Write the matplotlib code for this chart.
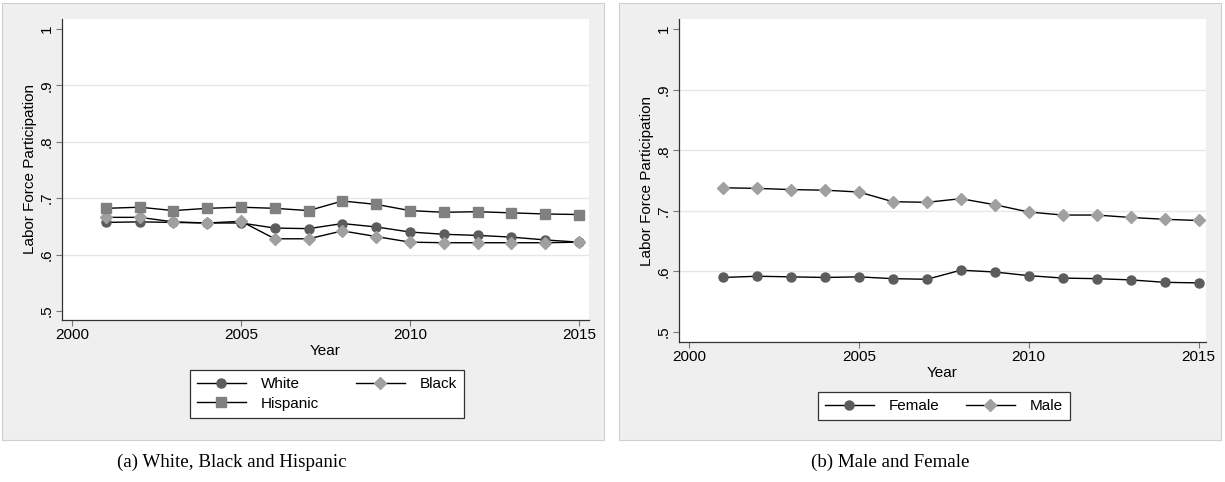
import numpy as np
import matplotlib
matplotlib.use("Agg")
import matplotlib.pyplot as plt
from matplotlib.patches import Rectangle

plt.rcParams['font.family'] = ['Liberation Sans', 'DejaVu Sans']

years = np.arange(2001, 2016)

# panel (a)
white = [0.657, 0.658, 0.657, 0.656, 0.656, 0.647, 0.646, 0.655, 0.649, 0.640,
         0.636, 0.634, 0.631, 0.626, 0.622]
black = [0.666, 0.666, 0.658, 0.656, 0.659, 0.628, 0.628, 0.642, 0.632, 0.622,
         0.621, 0.621, 0.621, 0.621, 0.622]
hispanic = [0.682, 0.684, 0.678, 0.682, 0.684, 0.682, 0.678, 0.695, 0.689, 0.678,
            0.675, 0.676, 0.674, 0.672, 0.671]

# panel (b)
female = [0.590, 0.592, 0.591, 0.590, 0.591, 0.588, 0.587, 0.602, 0.599, 0.593,
          0.589, 0.588, 0.586, 0.582, 0.581]
male = [0.738, 0.737, 0.735, 0.734, 0.731, 0.715, 0.714, 0.720, 0.710, 0.698,
        0.693, 0.693, 0.689, 0.686, 0.684]

yticks = [0.5, 0.6, 0.7, 0.8, 0.9, 1.0]
ytick_labels = ['.5', '.6', '.7', '.8', '.9', '1']
xticks = [2000, 2005, 2010, 2015]

W, H = 1225, 482
fig = plt.figure(figsize=(W / 100, H / 100), dpi=100)
bg = '#efefef'
fs = 11


def px_rect(x0, y0, x1, y1):
    # pixel box (top-left origin) -> figure fraction [left, bottom, width, height]
    return [x0 / W, 1 - y1 / H, (x1 - x0) / W, (y1 - y0) / H]


# gray panel backgrounds, kept behind the axes
for x0, x1 in [(2, 604), (619, 1221)]:
    l, b, w, h = px_rect(x0, 3, x1, 440)
    fig.patches.append(Rectangle((l, b), w, h, transform=fig.transFigure,
                                 facecolor=bg, edgecolor='#cfcfcf', lw=0.8, zorder=-5))

styles = {
    'circle': dict(marker='o', color='black', lw=1.0, markersize=6.5,
                   markerfacecolor='#5c5c5c', markeredgecolor='#5c5c5c'),
    'diamond': dict(marker='D', color='black', lw=1.0, markersize=6,
                    markerfacecolor='#a0a0a0', markeredgecolor='#a0a0a0'),
    'square': dict(marker='s', color='black', lw=1.0, markersize=6.5,
                   markerfacecolor='#808080', markeredgecolor='#808080'),
}


def setup(ax, ylo, yhi, xlo, xhi):
    ax.set_facecolor('white')
    ax.set_xlim(xlo, xhi)
    ax.set_ylim(ylo, yhi)
    ax.set_yticks(yticks)
    ax.set_yticklabels(ytick_labels, rotation=90, va='center')
    ax.set_xticks(xticks)
    ax.tick_params(axis='both', labelsize=fs, color='#777777', length=4, width=0.8, pad=2)
    for side in ['top', 'right']:
        ax.spines[side].set_visible(False)
    for side in ['left', 'bottom']:
        ax.spines[side].set_color('#333333')
        ax.spines[side].set_linewidth(0.9)
    for yv in [0.6, 0.7, 0.8, 0.9]:
        ax.axhline(yv, color='#e6e6e6', lw=1.0, zorder=0)
    ax.set_xlabel('Year', fontsize=fs, labelpad=1)
    ax.set_ylabel('Labor Force Participation', fontsize=fs, labelpad=2)


def add_legend(ax, handles, labels, cx, top, colspace):
    leg = ax.legend(handles, labels, loc='upper center', bbox_to_anchor=(cx / W, 1 - top / H),
                    bbox_transform=fig.transFigure, ncol=2, fontsize=fs,
                    handlelength=3.2, handletextpad=1.0, columnspacing=colspace,
                    fancybox=False, edgecolor='#333333', framealpha=1,
                    borderpad=0.45, labelspacing=0.38, borderaxespad=0)
    leg.get_frame().set_linewidth(0.9)
    return leg


ax1 = fig.add_axes(px_rect(62, 19, 589, 320))
setup(ax1, 0.484, 1.0177, 1999.70, 2015.30)
h_w, = ax1.plot(years, white, **styles['circle'])
h_b, = ax1.plot(years, black, **styles['diamond'])
h_h, = ax1.plot(years, hispanic, **styles['square'])
# column-major fill: White / Hispanic in the first column, Black in the second
add_legend(ax1, [h_w, h_h, h_b], ['White', 'Hispanic', 'Black'], (193 + 461) / 2, 370, 2.4)

ax2 = fig.add_axes(px_rect(679, 19, 1206, 342))
setup(ax2, 0.4835, 1.0165, 1999.70, 2015.22)
h_f, = ax2.plot(years, female, **styles['circle'])
h_m, = ax2.plot(years, male, **styles['diamond'])
add_legend(ax2, [h_f, h_m], ['Female', 'Male'], (817 + 1071) / 2, 392, 1.7)

fig.text(232 / W, 1 - 462 / H, '(a) White, Black and Hispanic', ha='center', va='center',
         fontsize=13.7, family='Liberation Serif')
fig.text(890 / W, 1 - 462 / H, '(b) Male and Female', ha='center', va='center',
         fontsize=13.7, family='Liberation Serif')

fig.savefig('out.png', dpi=100, facecolor='white')
